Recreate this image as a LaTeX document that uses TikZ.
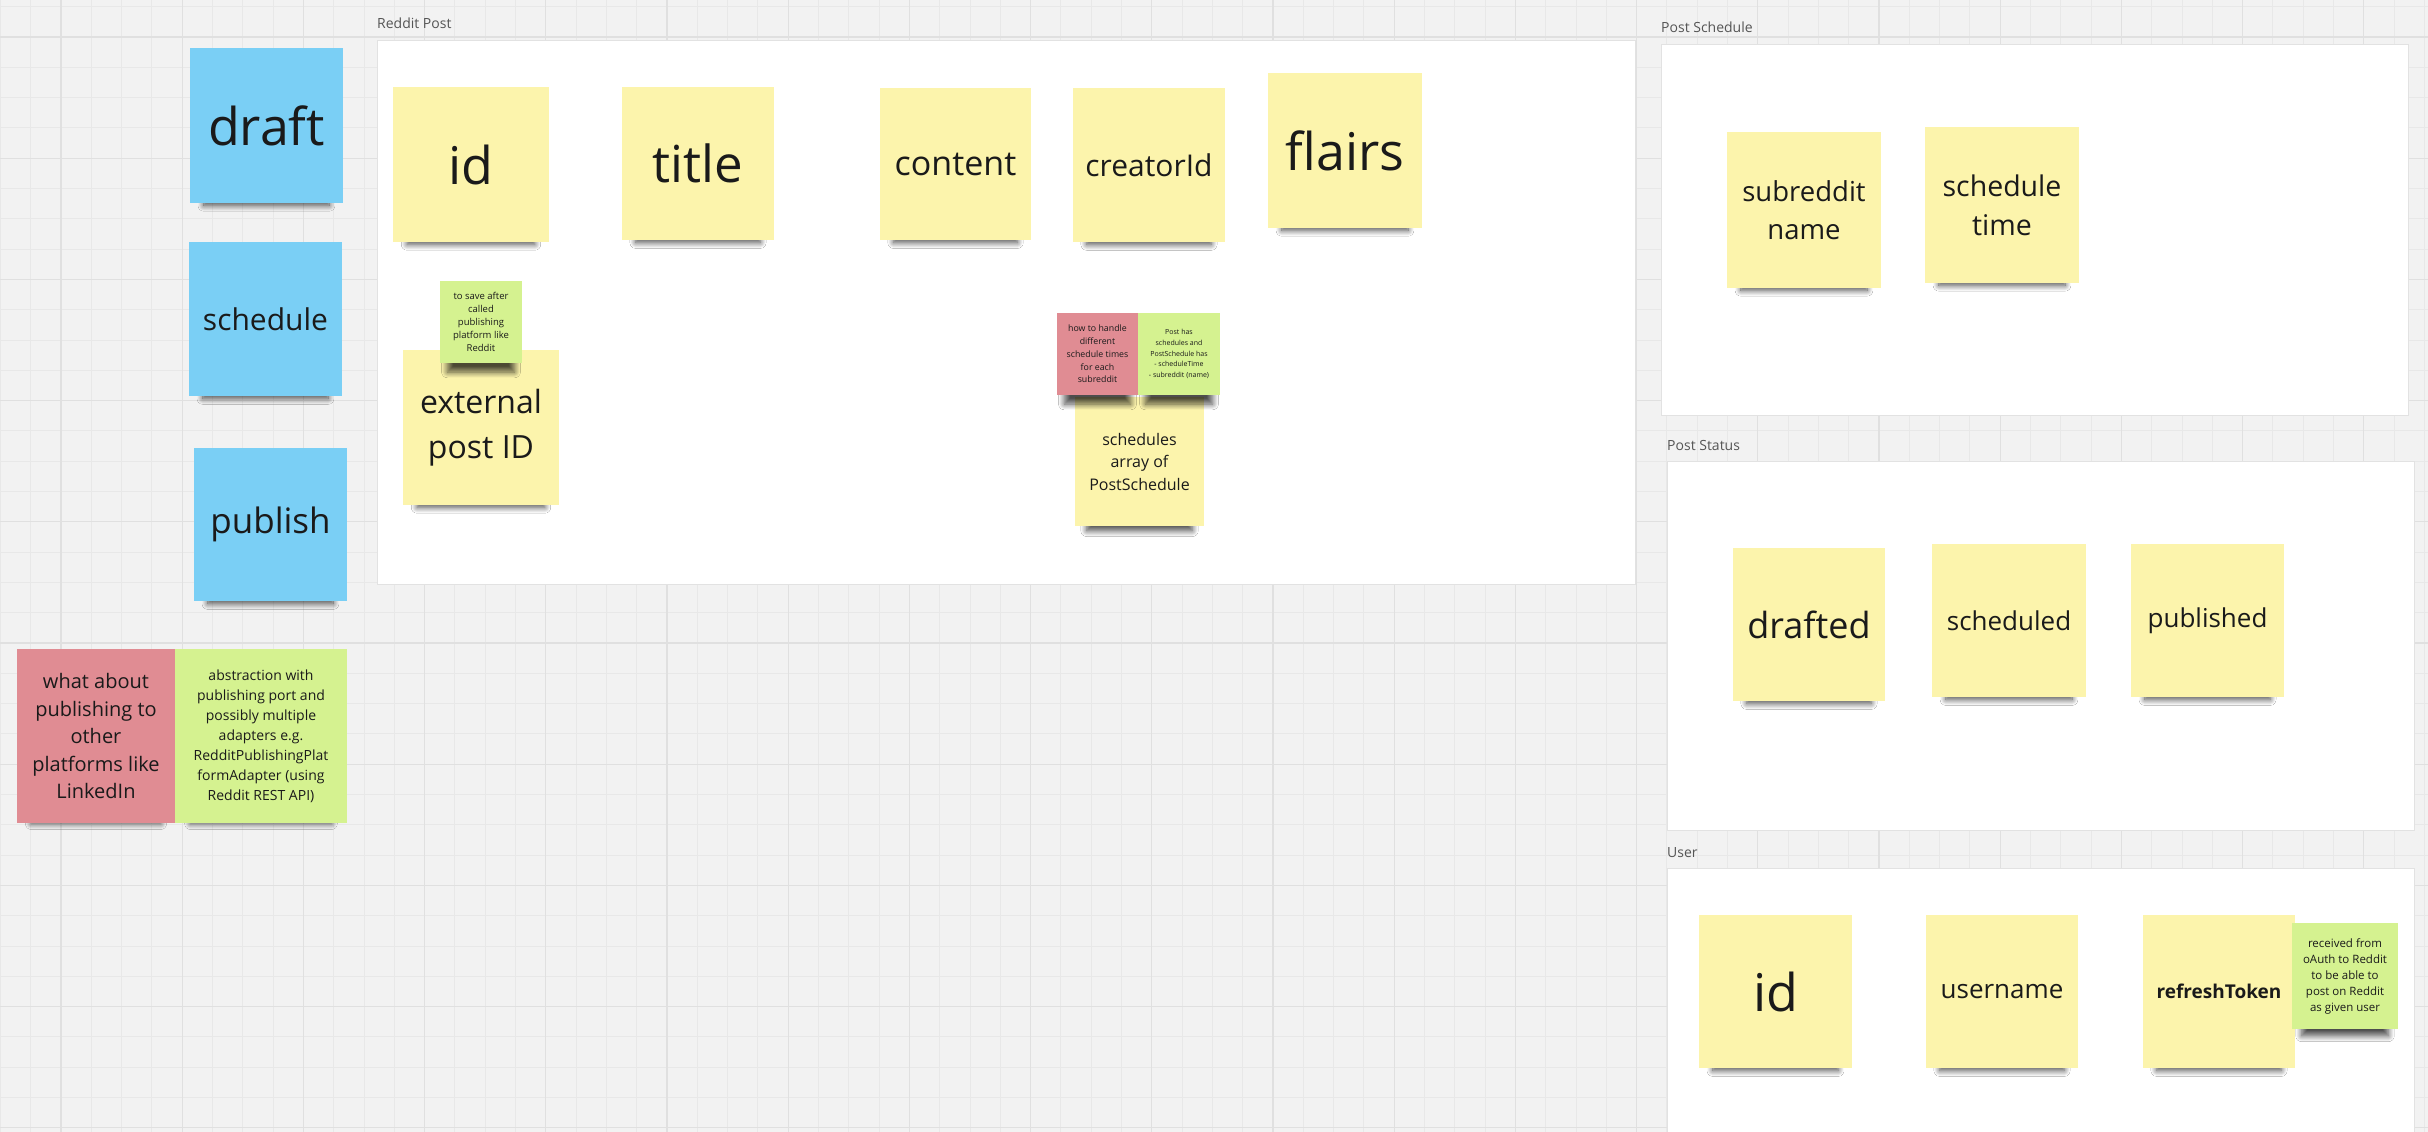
\documentclass[tikz,border=0pt]{standalone}
\usepackage{fontspec}
\setmainfont{Open Sans}
\usetikzlibrary{shadows.blur}
\definecolor{bg}{HTML}{F2F2F2}
\definecolor{minorgrid}{HTML}{E8E8E8}
\definecolor{majorgrid}{HTML}{E0E0E0}
\definecolor{framec}{HTML}{E2E2E2}
\definecolor{labelc}{HTML}{555555}
\definecolor{ink}{HTML}{1A1A1A}
\definecolor{yel}{HTML}{FCF4AC}
\definecolor{blu}{HTML}{7ACFF5}
\definecolor{rednote}{HTML}{E08C93}
\definecolor{grn}{HTML}{D5F290}
\newcommand\fsz[2]{\fontsize{#1}{#2}\selectfont}
\tikzset{
  stickynote/.style={rectangle, inner sep=0pt, align=center, text=ink,
    blur shadow={shadow xshift=0pt, shadow yshift=-20pt, shadow scale=0.82,
      shadow opacity=70, shadow blur radius=7pt, shadow blur steps=12}},
  frameboard/.style={draw=framec, fill=white, line width=1pt},
  flabel/.style={anchor=base west, text=labelc, font=\fsz{14}{17}, inner sep=0pt},
  gridminor/.style={draw=minorgrid, line width=1pt},
  gridmajor/.style={draw=majorgrid, line width=1.1pt},
}
\begin{document}
\begin{tikzpicture}[x=1pt, y=-1pt]
\useasboundingbox (0,0) rectangle (2428,1132);
\fill[bg] (0,0) rectangle (2428,1132);
% grid
\foreach \k in {-2,...,78}{
  \pgfmathsetmacro\xx{61+30.3*\k}
  \draw[gridminor] (\xx,0) -- (\xx,1132);
}
\foreach \k in {-1,...,36}{
  \pgfmathsetmacro\yy{37+30.3*\k}
  \draw[gridminor] (0,\yy) -- (2428,\yy);
}
\foreach \k in {0,...,20}{
  \pgfmathsetmacro\xx{61+121.2*\k}
  \draw[gridmajor] (\xx,0) -- (\xx,1132);
}
\foreach \k in {0,...,9}{
  \pgfmathsetmacro\yy{37+121.2*\k}
  \draw[gridmajor] (0,\yy) -- (2428,\yy);
}
% frames
\draw[frameboard] (377,41) rectangle (1635,584);
\node[flabel] (lpost) at (377,29) {Reddit Post};
\draw[frameboard] (1661,45) rectangle (2408,415);
\node[flabel] (lsched) at (1661,33) {Post Schedule};
\draw[frameboard] (1667,461) rectangle (2414,830);
\node[flabel] (lstatus) at (1667,450) {Post Status};
\draw[frameboard] (1667,868) rectangle (2414,1145);
\node[flabel] (luser) at (1667,857) {User};

% left column
\node[stickynote, fill=blu, minimum width=153pt, minimum height=155pt, font=\fsz{52}{70}] (draft) at (266.5,125.5) {draft};
\node[stickynote, fill=blu, minimum width=153pt, minimum height=154pt, font=\fsz{30}{40}] (schedule) at (265.5,319) {schedule};
\node[stickynote, fill=blu, minimum width=153pt, minimum height=153pt, font=\fsz{35}{47}] (publish) at (270.5,524.5) {publish};
\node[stickynote, fill=rednote, minimum width=158pt, minimum height=174pt, font=\fsz{20}{27.5}] (other) at (96,736) {what about\\publishing to\\other\\platforms like\\LinkedIn};
\node[stickynote, fill=grn, minimum width=172pt, minimum height=174pt, font=\fsz{14}{20}] (abstraction) at (261,736) {abstraction with\\publishing port and\\possibly multiple\\adapters e.g.\\RedditPublishingPlat\\formAdapter (using\\Reddit REST API)};

% Reddit Post
\node[stickynote, fill=yel, minimum width=156pt, minimum height=155pt, font=\fsz{52}{70}] (pid) at (471,164.5) {id};
\node[stickynote, fill=yel, minimum width=152pt, minimum height=153pt, font=\fsz{51}{70}] (title) at (698,163.5) {title};
\node[stickynote, fill=yel, minimum width=151pt, minimum height=152pt, font=\fsz{34}{46}] (content) at (955.5,164) {content};
\node[stickynote, fill=yel, minimum width=152pt, minimum height=154pt, font=\fsz{30}{40}] (creator) at (1149,165) {creatorId};
\node[stickynote, fill=yel, minimum width=154pt, minimum height=155pt, font=\fsz{52}{70}] (flairs) at (1345,150.5) {flairs};
\node[stickynote, fill=yel, minimum width=156pt, minimum height=155pt, font=\fsz{32}{45}] (ext) at (481,427.5) {external\\post ID};
\node[stickynote, fill=grn, minimum width=82pt, minimum height=82pt, font=\fsz{9.5}{13}] (extnote) at (481,322) {to save after\\called\\publishing\\platform like\\Reddit};
\node[stickynote, fill=yel, minimum width=129pt, minimum height=129pt, font=\fsz{16}{22.5}] (schedules) at (1139.5,461.5) {schedules\\array of\\PostSchedule};
\node[stickynote, fill=rednote, minimum width=81pt, minimum height=82pt, font=\fsz{8.8}{12.8}] (howto) at (1097.5,354) {how to handle\\different\\schedule times\\for each\\subreddit};
\node[stickynote, fill=grn, minimum width=82pt, minimum height=82pt, font=\fsz{7}{10.8}] (posthas) at (1179,354) {Post has\\schedules and\\PostSchedule has\\- scheduleTime\\- subreddit (name)};

% Post Schedule
\node[stickynote, fill=yel, minimum width=154pt, minimum height=156pt, font=\fsz{27.5}{38}] (subname) at (1804,210) {subreddit\\name};
\node[stickynote, fill=yel, minimum width=154pt, minimum height=156pt, font=\fsz{28.5}{39}] (stime) at (2002,205) {schedule\\time};

% Post Status
\node[stickynote, fill=yel, minimum width=152pt, minimum height=153pt, font=\fsz{36}{48}] (drafted) at (1809,624.5) {drafted};
\node[stickynote, fill=yel, minimum width=154pt, minimum height=153pt, font=\fsz{26}{35}] (scheduled) at (2009,620.5) {scheduled};
\node[stickynote, fill=yel, minimum width=153pt, minimum height=153pt, font=\fsz{26}{35}] (published) at (2207.5,620.5) {published};

% User
\node[stickynote, fill=yel, minimum width=153pt, minimum height=153pt, font=\fsz{52}{70}] (uid) at (1775.5,991.5) {id};
\node[stickynote, fill=yel, minimum width=152pt, minimum height=153pt, font=\fsz{26}{35}] (uname) at (2002,991.5) {username};
\node[stickynote, fill=yel, minimum width=152pt, minimum height=153pt, font=\fsz{19}{26}\bfseries] (token) at (2219,991.5) {refreshToken};
\node[stickynote, fill=grn, minimum width=106pt, minimum height=106pt, font=\fsz{11.5}{16}] (tokennote) at (2345,976) {received from\\oAuth to Reddit\\to be able to\\post on Reddit\\as given user};
\end{tikzpicture}
\end{document}
